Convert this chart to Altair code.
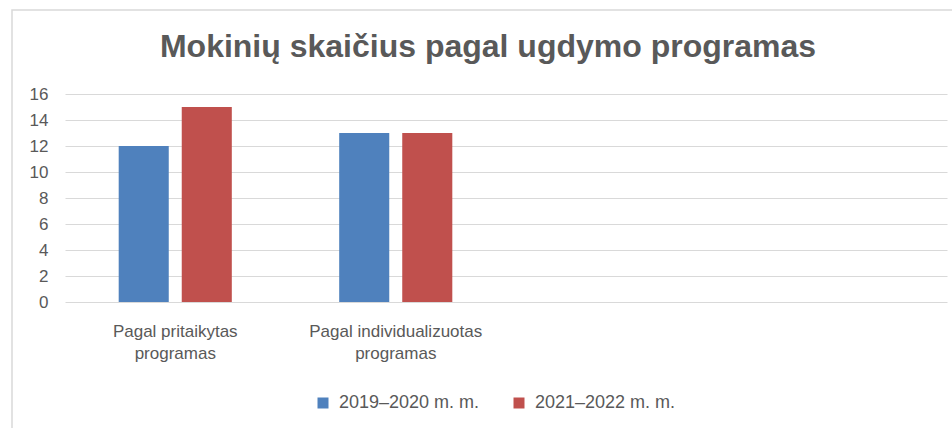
import altair as alt
import pandas as pd

title_text = "Mokinių skaičius pagal ugdymo programas"
categories = ["Pagal pritaikytas programas", "Pagal individualizuotas programas"]
empty_slots = [" ", "  "]
series = ["2019–2020 m. m.", "2021–2022 m. m."]
values_2019 = [12, 13]
values_2021 = [15, 13]
colors = ["#4F81BD", "#C0504D"]

rows = []
for c, v in zip(categories, values_2019):
    rows.append({"category": c, "series": series[0], "value": v})
for c, v in zip(categories, values_2021):
    rows.append({"category": c, "series": series[1], "value": v})
df = pd.DataFrame(rows)

slots = categories + empty_slots
FONT = "Liberation Sans"
GRAY = "#595959"

label_expr = ("[substring(datum.label, 0, lastindexof(datum.label, ' ')), "
              "substring(datum.label, lastindexof(datum.label, ' ') + 1)]")

bars = alt.Chart(df).mark_bar().encode(
    x=alt.X("category:N", sort=slots,
            scale=alt.Scale(domain=slots, paddingInner=0.487, paddingOuter=0.2435),
            axis=alt.Axis(title=None, labelAngle=0, domain=False, ticks=False,
                          labelExpr=label_expr, labelFontSize=17, labelFont=FONT,
                          labelColor=GRAY, labelPadding=21, labelLineHeight=22,
                          labelLimit=400)),
    xOffset=alt.XOffset("series:N", sort=series,
                        scale=alt.Scale(domain=series, paddingInner=0.206, paddingOuter=0)),
    y=alt.Y("value:Q", scale=alt.Scale(domain=[0, 16], nice=False),
            axis=alt.Axis(title=None, values=list(range(0, 17, 2)), domain=False,
                          ticks=False, labelFontSize=17, labelFont=FONT,
                          labelColor=GRAY, labelPadding=17, gridColor="#d9d9d9",
                          gridWidth=1.2)),
    color=alt.Color("series:N", sort=series,
                    scale=alt.Scale(domain=series, range=colors),
                    legend=alt.Legend(title=None, orient="none", direction="horizontal",
                                      legendX=249, legendY=300, symbolType="square",
                                      symbolSize=121, symbolStrokeWidth=0,
                                      labelFontSize=18, labelFont=FONT, labelColor=GRAY,
                                      columnPadding=30, labelOffset=7)),
)

frame = alt.Chart(pd.DataFrame({"f": [0]})).mark_rect(
    fill=None, stroke="#d9d9d9", strokeWidth=1.5, clip=False
).encode(
    x=alt.value(-53), x2=alt.value(960), y=alt.value(-84), y2=alt.value(400)
)

chart = alt.layer(frame, bars).properties(
    width=882, height=208,
    title=alt.TitleParams(title_text, font=FONT, fontSize=32, fontWeight="bold",
                          color=GRAY, anchor="middle", dx=-18, offset=-80,
                          baseline="alphabetic"),
    autosize=alt.AutoSizeParams(type="none"),
    padding={"left": 65, "top": 94, "right": 5, "bottom": 126},
).configure_view(stroke=None)

chart.save("out.html", embed_options={"renderer": "svg", "actions": False})
